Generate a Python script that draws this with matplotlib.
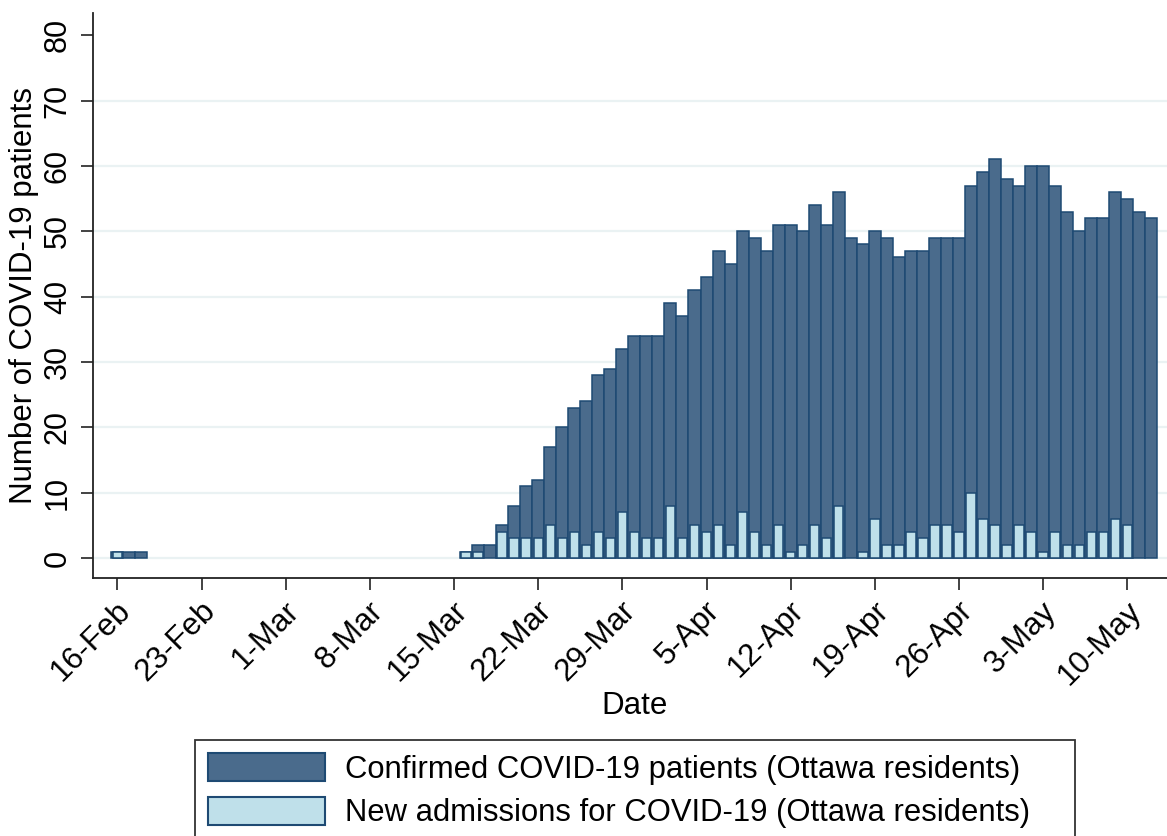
import matplotlib
matplotlib.use("Agg")
import matplotlib.pyplot as plt
import matplotlib.dates as mdates
import matplotlib.transforms as mtransforms
from matplotlib.patches import Patch
import pandas as pd

# ---- data ----
early_dates = ["2020-02-16", "2020-02-17", "2020-02-18"]
early_confirmed = [1, 1, 1]
early_new = [1, 0, 0]

main_start = "2020-03-16"
main_end = "2020-05-12"
main_confirmed = [1, 2, 2, 5, 8, 11, 12, 17, 20, 23, 24, 28, 29, 32, 34, 34,
                  34, 39, 37, 41, 43, 47, 45, 50, 49, 47, 51, 51, 50, 54, 51, 56,
                  49, 48, 50, 49, 46, 47, 47, 49, 49, 49, 57, 59, 61, 58,
                  57, 60, 60, 57, 53, 50, 52, 52, 56, 55, 53, 52]
main_new = [1, 1, 0, 4, 3, 3, 3, 5, 3, 4, 2, 4, 3, 7, 4, 3,
            3, 8, 3, 5, 4, 5, 2, 7, 4, 2, 5, 1, 2, 5, 3, 8,
            0, 1, 6, 2, 2, 4, 3, 5, 5, 4, 10, 6, 5, 2,
            5, 4, 1, 4, 2, 2, 4, 4, 6, 5, 0, 0]

tick_dates = ["2020-02-16", "2020-02-23", "2020-03-01", "2020-03-08", "2020-03-15",
              "2020-03-22", "2020-03-29", "2020-04-05", "2020-04-12", "2020-04-19",
              "2020-04-26", "2020-05-03", "2020-05-10"]
tick_labels = ["16-Feb", "23-Feb", "1-Mar", "8-Mar", "15-Mar", "22-Mar", "29-Mar",
               "5-Apr", "12-Apr", "19-Apr", "26-Apr", "3-May", "10-May"]
y_ticks = [0, 10, 20, 30, 40, 50, 60, 70, 80]

label_confirmed = "Confirmed COVID-19 patients (Ottawa residents)"
label_new = "New admissions for COVID-19 (Ottawa residents)"

# ---- assemble ----
dates = list(pd.to_datetime(early_dates)) + list(pd.date_range(main_start, main_end))
confirmed = early_confirmed + main_confirmed
new_adm = early_new + main_new
df = pd.DataFrame({"date": dates, "confirmed": confirmed, "new": new_adm})

plt.rcParams["font.family"] = ["Liberation Sans", "DejaVu Sans"]

DARK_FILL = "#4a6b8c"
DARK_EDGE = "#1e4a73"
LIGHT_FILL = "#bfe0ea"

W, H = 1167, 836
fig = plt.figure(figsize=(W / 100, H / 100), dpi=100)
ax = fig.add_axes([93 / W, 1 - 578 / H, 1 - 93 / W, (578 - 13) / H])

x = mdates.date2num(df["date"])
mc = df["confirmed"] > 0
ax.bar(x[mc], df["confirmed"][mc], width=1.0, color=DARK_FILL,
       edgecolor=DARK_EDGE, linewidth=1.1, zorder=3)
mn = df["new"] > 0
ax.bar(x[mn], df["new"][mn], width=0.78, color=LIGHT_FILL,
       edgecolor=DARK_EDGE, linewidth=1.1, zorder=4)

# grid
for yv in y_ticks[:-1]:
    ax.axhline(yv, color="#eaf2f3", linewidth=1.6, zorder=1)

ax.set_ylim(-3.05, 83.4)
xt = mdates.date2num(pd.to_datetime(tick_dates))
ax.set_xlim(xt[0] - 2.03, mdates.date2num(pd.Timestamp(main_end)) + 1.3)

ax.tick_params(axis="both", length=8.5, width=1.2, color="#222222")
ax.tick_params(axis="y", pad=6)
ax.tick_params(axis="x", pad=12)

ax.set_yticks(y_ticks)
ax.set_yticklabels([str(v) for v in y_ticks], rotation=90, va="center", fontsize=22)
ax.set_xticks(xt)
ax.set_xticklabels(tick_labels, rotation=45, ha="right", va="center",
                   rotation_mode="anchor", fontsize=22.5)
offset = mtransforms.ScaledTranslation(9 / 100, 0, fig.dpi_scale_trans)
for lbl in ax.get_xticklabels():
    lbl.set_transform(lbl.get_transform() + offset)

for s in ["top", "right"]:
    ax.spines[s].set_visible(False)
for s in ["left", "bottom"]:
    ax.spines[s].set_linewidth(1.3)
    ax.spines[s].set_color("#222222")

ax.set_xlabel("Date", fontsize=22.5)
ax.xaxis.set_label_coords((635 - 93) / (W - 93), -(706 - 578) / (578 - 13), transform=ax.transAxes)
ax.xaxis.label.set_va("center")
ax.set_ylabel("Number of COVID-19 patients", fontsize=22.5, labelpad=2.5)

handles = [Patch(facecolor=DARK_FILL, edgecolor=DARK_EDGE, linewidth=1.5, label=label_confirmed),
           Patch(facecolor=LIGHT_FILL, edgecolor=DARK_EDGE, linewidth=1.5, label=label_new)]
leg = fig.legend(handles=handles, loc="upper left",
                 bbox_to_anchor=(195 / W, 1 - 740 / H, 880 / W, 0.0), mode="expand",
                 fontsize=22.3, frameon=True, fancybox=False, edgecolor="black",
                 handlelength=3.77, handleheight=1.03, handletextpad=0.65,
                 labelspacing=0.38, borderpad=0.42, borderaxespad=0)
leg.get_frame().set_linewidth(1.3)

fig.savefig("out.png", dpi=100)
